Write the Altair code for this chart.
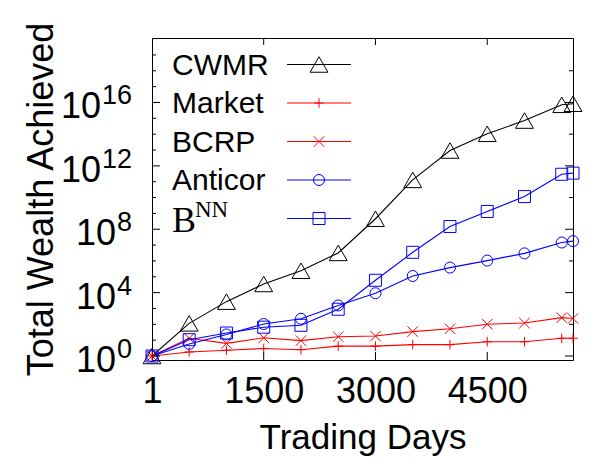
import altair as alt
import pandas as pd

# ---- data ----
days = [1, 500, 1000, 1500, 2000, 2500, 3000, 3500, 4000, 4500, 5000, 5500, 5651]
cwmr = [1, 115, 2.7e3, 3.5e4, 2.4e5, 3.2e6, 4.6e8, 1.3e11, 9.3e12, 1.05e14, 7.2e14, 7.1e15, 8.3e15]
market = [1, 1.8, 2.3, 3.0, 2.5, 4.2, 4.2, 5.2, 5.2, 7.9, 7.9, 13.2, 13.2]
bcrp = [1, 13.2, 6.3, 14.1, 9.3, 16.6, 18.2, 34.7, 52.5, 102, 120, 263, 234]
anticor = [1, 5.8, 22.9, 105, 224, 1550, 9120, 1.12e5, 3.8e5, 1.05e6, 3.0e6, 1.45e7, 1.78e7]
bnn = [1, 10.7, 28.2, 66, 87, 891, 6.0e4, 3.5e6, 1.48e8, 1.32e9, 1.15e10, 2.95e11, 3.47e11]

series_names = ["CWMR", "Market", "BCRP", "Anticor", "BNN"]
series_colors = ["#000000", "#ff0000", "#ff0000", "#0000ff", "#0000ff"]
series_shapes = ["triangle-up", "M-1,0L1,0M0,-1L0,1", "M-1,-1L1,1M-1,1L1,-1", "circle", "square"]
series_sizes = [320, 90, 110, 121, 144]
legend_main = ["CWMR", "Market", "BCRP", "Anticor", "B"]
legend_sup = ["", "", "", "", "NN"]

x_tick_values = [1, 1500, 3000, 4500]
y_label_exponents = [0, 4, 8, 12, 16]
y_major_exp = [0, 4, 8, 12, 16]
y_minor_left_exp = [1, 2, 3, 5, 6, 7, 9, 10, 11, 13, 14, 15, 17, 18, 19]
y_minor_right_exp = [2, 6, 10, 14, 18]

W, H = 421, 322
FONT = "Liberation Sans"

style = {n: (c, s, z) for n, c, s, z in zip(series_names, series_colors, series_shapes, series_sizes)}

rows = []
for name, vals in zip(series_names, [cwmr, market, bcrp, anticor, bnn]):
    c, s, z = style[name]
    for d, v in zip(days, vals):
        rows.append({"series": name, "day": d, "wealth": v, "col": c, "shp": s, "msz": z})
df = pd.DataFrame(rows)

xscale = alt.Scale(domain=[1, 5651], nice=False, zero=False)
yscale = alt.Scale(type="log", domain=[0.56, 1.17e20], nice=False)

xaxis = alt.Axis(values=x_tick_values, format="d", ticks=False, domain=False, grid=False,
                 labelFontSize=36, labelFont=FONT, labelColor="black",
                 labelPadding=42, labelBaseline="alphabetic", labelFlush=False,
                 labelOverlap=False,
                 title="Trading Days", titleFontSize=35, titleFont=FONT,
                 titleFontWeight="normal", titleColor="black",
                 titleX=W / 2, titleY=88.5, titleBaseline="alphabetic", titleAlign="center")
yaxis = alt.Axis(labels=False, ticks=False, domain=False, grid=False,
                 title="Total Wealth Achieved", titleFontSize=36, titleFont=FONT,
                 titleFontWeight="normal", titleColor="black",
                 titleX=-100, titleY=H / 2, titleAngle=270,
                 titleBaseline="alphabetic", titleAlign="center")

base = alt.Chart(df)
lines = base.mark_line(strokeWidth=1.1).encode(
    x=alt.X("day:Q", scale=xscale, axis=xaxis),
    y=alt.Y("wealth:Q", scale=yscale, axis=yaxis),
    color=alt.Color("col:N", scale=None),
    detail="series:N",
)
points = base.mark_point(filled=False, strokeWidth=1, opacity=1).encode(
    x=alt.X("day:Q", scale=xscale),
    y=alt.Y("wealth:Q", scale=yscale),
    color=alt.Color("col:N", scale=None),
    shape=alt.Shape("shp:N", scale=None),
    size=alt.Size("msz:Q", scale=None),
)

# ---- inward ticks on all four sides ----
xt = pd.DataFrame({"tx": x_tick_values[1:]})
xt_bottom = alt.Chart(xt).mark_rule(color="black", strokeWidth=1).encode(
    x=alt.X("tx:Q", scale=xscale), y=alt.value(H), y2=alt.value(H - 8))
xt_top = alt.Chart(xt).mark_rule(color="black", strokeWidth=1).encode(
    x=alt.X("tx:Q", scale=xscale), y=alt.value(0), y2=alt.value(7))

ymaj = pd.DataFrame({"ty": [10.0 ** e for e in y_major_exp]})
ymin_l = pd.DataFrame({"ty": [10.0 ** e for e in y_minor_left_exp]})
ymin_r = pd.DataFrame({"ty": [10.0 ** e for e in y_minor_right_exp]})


def yticks(d, x0, x1):
    return alt.Chart(d).mark_rule(color="black", strokeWidth=1).encode(
        y=alt.Y("ty:Q", scale=yscale), x=alt.value(x0), x2=alt.value(x1))


tick_layers = [xt_bottom, xt_top,
               yticks(ymaj, 0, 8), yticks(ymin_l, 0, 4),
               yticks(ymaj, W, W - 8), yticks(ymin_r, W, W - 4)]

# ---- y tick labels 10^k ----
ylab = pd.DataFrame({"v": [10.0 ** e for e in y_label_exponents],
                     "exp": [str(e) for e in y_label_exponents]})
ylab["n"] = ylab["exp"].str.len()
ylab_layers = []
for n in [1, 2]:
    sub = ylab[ylab["n"] == n]
    ylab_layers.append(alt.Chart(sub).mark_text(
        align="right", baseline="alphabetic", fontSize=27, font=FONT, color="black", dy=2
    ).encode(x=alt.value(-20), y=alt.Y("v:Q", scale=yscale), text="exp:N"))
    ylab_layers.append(alt.Chart(sub).mark_text(
        align="right", baseline="alphabetic", fontSize=36, font=FONT, color="black", dy=16
    ).encode(x=alt.value(-20 - 15 * n - 1), y=alt.Y("v:Q", scale=yscale),
             text=alt.value("10")))

# ---- legend (drawn inside the plot, upper left) ----
leg = pd.DataFrame({"series": series_names, "label": legend_main, "sup": legend_sup,
                    "col": series_colors, "shp": series_shapes, "msz": series_sizes,
                    "ly": [26.5 + 38.5 * i for i in range(len(series_names))]})
leg_lines = []
for name, c in zip(series_names, series_colors):
    leg_lines.append(alt.Chart(leg).transform_filter(alt.datum.series == name).mark_rule(
        strokeWidth=1.1, color=c
    ).encode(x=alt.value(135), x2=alt.value(199), y=alt.Y("ly:Q", scale=None)))
leg_pt = alt.Chart(leg).mark_point(filled=False, strokeWidth=1, opacity=1).encode(
    x=alt.value(167), y=alt.Y("ly:Q", scale=None),
    color=alt.Color("col:N", scale=None),
    shape=alt.Shape("shp:N", scale=None),
    size=alt.Size("msz:Q", scale=None))
leg_txt = alt.Chart(leg).transform_filter("datum.sup == ''").mark_text(
    align="left", baseline="alphabetic", fontSize=30, font=FONT, color="black", dy=10
).encode(x=alt.value(20), y=alt.Y("ly:Q", scale=None), text="label:N")
leg_serif = alt.Chart(leg).transform_filter("datum.sup != ''").mark_text(
    align="left", baseline="alphabetic", fontSize=36, font="Liberation Serif", color="black", dy=13.5
).encode(x=alt.value(20), y=alt.Y("ly:Q", scale=None), text="label:N")
leg_sup = alt.Chart(leg).transform_filter("datum.sup != ''").mark_text(
    align="left", baseline="alphabetic", fontSize=23, font="Liberation Serif", color="black", dy=-1.5
).encode(x=alt.value(43), y=alt.Y("ly:Q", scale=None), text="sup:N")

chart = alt.layer(
    lines, points, *tick_layers, *ylab_layers, *leg_lines, leg_pt, leg_txt, leg_serif, leg_sup
).properties(
    width=W, height=H,
    autosize=alt.AutoSizeParams(type="none"),
    padding={"left": 144, "top": 30, "right": 19, "bottom": 96},
).configure_view(stroke="black", strokeWidth=1)

chart.save("out.html", embed_options={"renderer": "svg", "actions": False})
